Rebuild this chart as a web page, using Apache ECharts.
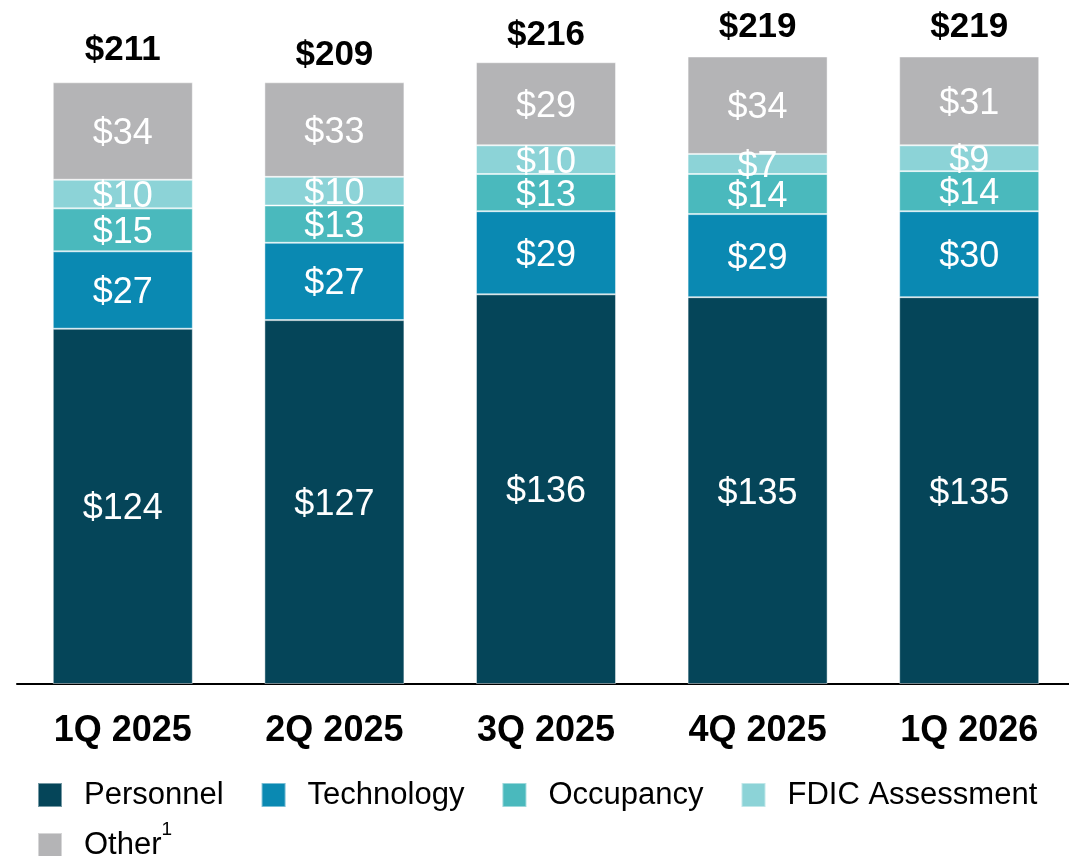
<!DOCTYPE html>
<html>
<head>
<meta charset="utf-8">
<script src="https://cdn.jsdelivr.net/npm/echarts@6.0.0/dist/echarts.min.js"></script>
<style>
  html, body { margin: 0; padding: 0; background: #fff; overflow: hidden; }
  #main { width: 1075px; height: 856px; }
</style>
</head>
<body>
<div id="main"></div>
<script>
var quarters = ['1Q 2025', '2Q 2025', '3Q 2025', '4Q 2025', '1Q 2026'];
var personnel = [124, 127, 136, 135, 135];
var technology = [27, 27, 29, 29, 30];
var occupancy = [15, 13, 13, 14, 14];
var fdic = [10, 10, 10, 7, 9];
var other = [34, 33, 29, 34, 31];
var totals = [211, 209, 216, 219, 219];

var myChart = echarts.init(document.getElementById('main'));

function seg(name, data, color) {
    return {
        name: name,
        type: 'bar',
        stack: 'total',
        barWidth: 140,
        data: data,
        itemStyle: {
            color: color,
            borderColor: 'rgba(255,255,255,0.45)',
            borderWidth: 1
        },
        label: {
            show: true,
            position: 'inside',
            offset: [0, 3],
            color: '#fff',
            fontFamily: 'Liberation Sans, Arial',
            fontSize: 36,
            formatter: '${c}'
        },
        emphasis: { disabled: true }
    };
}

var option = {
    backgroundColor: '#fff',
    animation: false,
    grid: {
        left: 17,
        top: 25,
        right: 0,
        bottom: 172
    },
    legend: {
        left: 37,
        top: 770,
        width: 1050,
        padding: 0,
        itemWidth: 24,
        itemHeight: 24,
        itemGap: 0,
        icon: 'rect',
        data: ['Personnel', 'Technology', 'Occupancy', 'FDIC Assessment', 'Other'],
        formatter: function (name) {
            return name === 'Other' ? '{t|Other}{s|1}' : '{t|' + name + '}';
        },
        textStyle: {
            color: '#000',
            fontFamily: 'Liberation Sans, Arial',
            fontSize: 31,
            lineHeight: 50,
            padding: [0, 37, 0, 17],
            rich: {
                t: { fontSize: 31, fontFamily: 'Liberation Sans, Arial', color: '#000', lineHeight: 50 },
                s: { fontSize: 19, fontFamily: 'Liberation Sans, Arial', color: '#000', verticalAlign: 'top', lineHeight: 36 }
            }
        }
    },
    xAxis: {
        type: 'category',
        data: quarters,
        axisLine: { lineStyle: { color: '#000', width: 2 } },
        axisTick: { show: false },
        axisLabel: {
            color: '#000',
            fontFamily: 'Liberation Sans, Arial',
            fontWeight: 'bold',
            fontSize: 36,
            margin: 29
        }
    },
    yAxis: {
        type: 'value',
        min: 0,
        max: 230,
        show: false,
        splitLine: { show: false }
    },
    series: [
        seg('Personnel', personnel, '#054559'),
        seg('Technology', technology, '#0a89b2'),
        seg('Occupancy', occupancy, '#4ab9bd'),
        seg('FDIC Assessment', fdic, '#8cd3d7'),
        seg('Other', other, '#b4b4b6'),
        {
            name: 'Total',
            type: 'scatter',
            data: totals,
            symbolSize: 0,
            silent: true,
            itemStyle: { opacity: 1 },
            label: {
                show: true,
                position: 'top',
                distance: 12,
                color: '#000',
                fontFamily: 'Liberation Sans, Arial',
                fontWeight: 'bold',
                fontSize: 35,
                formatter: '${c}'
            }
        }
    ]
};

myChart.setOption(option);
</script>
</body>
</html>
